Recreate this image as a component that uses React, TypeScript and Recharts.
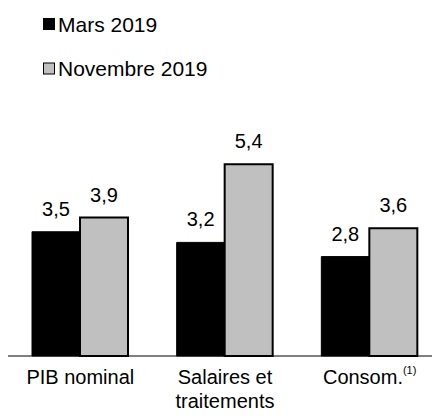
import React from "react"
import { BarChart, Bar, XAxis, YAxis, LabelList, Legend } from "recharts"

const categories = ["PIB nominal", "Salaires et\ntraitements", "Consom."]
const footnotes = ["", "", "(1)"]
const mars2019 = [3.5, 3.2, 2.8]
const novembre2019 = [3.9, 5.4, 3.6]
const seriesNames = ["Mars 2019", "Novembre 2019"]

const FONT = '"Liberation Sans", Arial, sans-serif'
const GRAY = "#c0c0c0"

const data = categories.map((name, i) => ({
    name,
    note: footnotes[i],
    mars: mars2019[i],
    novembre: novembre2019[i],
}))

const fmt = (v: any) => Number(v).toFixed(1).replace(".", ",")

function CategoryTick(props: any) {
    const { x, y, payload, index } = props
    const lines = String(payload.value).split("\n")
    const note = footnotes[index] || ""
    return (
        <g transform={`translate(${x},${y})`}>
            <text textAnchor="middle" fontSize={20} fontFamily={FONT} fill="#000">
                {lines.map((line, i) => (
                    <tspan key={i} x={0} y={28 + i * 24}>
                        {line}
                        {note && i === lines.length - 1 ? (
                            <tspan fontSize={11} dy={-10}>{note}</tspan>
                        ) : null}
                    </tspan>
                ))}
            </text>
        </g>
    )
}

function LegendBox() {
    const colors = ["#000", GRAY]
    return (
        <svg width={300} height={90} style={{ display: "block" }}>
            {seriesNames.map((s, i) => (
                <g key={s}>
                    <rect x={43.5} y={18.5 + i * 44.5} width={11} height={11} fill={colors[i]} stroke="#000" strokeWidth={1} />
                    <text x={58} y={32 + i * 44} fontSize={21} fontFamily={FONT} fill="#000">{s}</text>
                </g>
            ))}
        </svg>
    )
}

export default function App() {
    return (
        <div style={{ marginLeft: -8, marginTop: -8, width: 440, height: 416, overflow: "hidden", position: "relative" }}>
            <BarChart
                width={442}
                height={416}
                data={data}
                margin={{ top: 143, right: 0, left: 8, bottom: 0 }}
                barGap={0}
            >
                <XAxis
                    dataKey="name"
                    axisLine={{ stroke: "#000", strokeWidth: 1 }}
                    tickLine={false}
                    tickSize={0}
                    tickMargin={0}
                    height={60}
                    interval={0}
                    tick={<CategoryTick />}
                />
                <YAxis hide domain={[0, 6]} />
                <Legend
                    layout="horizontal"
                    verticalAlign="middle"
                    align="center"
                    content={() => <LegendBox />}
                    wrapperStyle={{ position: "absolute", top: 0, left: 0, width: 300, height: 90 }}
                />
                <Bar dataKey="mars" name={seriesNames[0]} fill="#000" stroke="#000" strokeWidth={1} barSize={48} isAnimationActive={false}>
                    <LabelList dataKey="mars" position="top" offset={16} formatter={fmt} fontSize={20} fontFamily={FONT} fill="#000" />
                </Bar>
                <Bar dataKey="novembre" name={seriesNames[1]} fill={GRAY} stroke="#000" strokeWidth={2} barSize={48} isAnimationActive={false}>
                    <LabelList dataKey="novembre" position="top" offset={16} formatter={fmt} fontSize={20} fontFamily={FONT} fill="#000" />
                </Bar>
            </BarChart>
        </div>
    )
}
